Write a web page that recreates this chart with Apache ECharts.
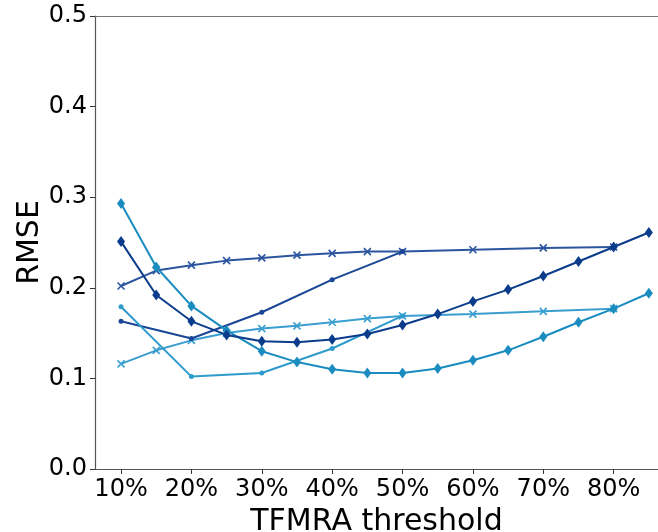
<!DOCTYPE html>
<html>
<head>
<meta charset="utf-8">
<script src="https://cdn.jsdelivr.net/npm/echarts@6/dist/echarts.min.js"></script>
<style>html,body{margin:0;padding:0;background:#fff;}#c{width:658px;height:532px;}</style>
</head>
<body>
<div id="c"></div>
<script>
// ---- data ----
var xTicks = [10, 20, 30, 40, 50, 60, 70, 80];
var yTicks = [0, 0.1, 0.2, 0.3, 0.4, 0.5];
var xFull = [10, 15, 20, 25, 30, 35, 40, 45, 50, 55, 60, 65, 70, 75, 80, 85];
var navyDiamond = [0.251, 0.192, 0.163, 0.148, 0.141, 0.140, 0.143, 0.149, 0.159, 0.171, 0.185, 0.198, 0.213, 0.229, 0.245, 0.261];
var tealDiamond = [0.293, 0.223, 0.180, 0.153, 0.130, 0.118, 0.110, 0.106, 0.106, 0.111, 0.120, 0.131, 0.146, 0.162, 0.177, 0.194];
var xCross = [10, 15, 20, 25, 30, 35, 40, 45, 50, 60, 70, 80];
var navyCross = [0.202, 0.219, 0.225, 0.230, 0.233, 0.236, 0.238, 0.240, 0.240, 0.242, 0.244, 0.245];
var lightCross = [0.116, 0.131, 0.142, 0.150, 0.155, 0.158, 0.162, 0.166, 0.169, 0.171, 0.174, 0.177];
var xDot = [10, 20, 30, 40, 50];
var navyDot = [0.163, 0.144, 0.173, 0.209, 0.240];
var lightDot = [0.179, 0.102, 0.106, 0.133, 0.169];

function pairs(xs, ys) { return xs.map(function (x, i) { return [x, ys[i]]; }); }

var crossPath = 'path://M0,0L10,10M10,0L0,10';
var font = 'DejaVu Sans';

function series(name, xs, ys, color, symbol, size, z) {
  var isCross = symbol === crossPath;
  return {
    name: name, type: 'line', data: pairs(xs, ys), z: z,
    symbol: symbol, symbolSize: size, showSymbol: true,
    lineStyle: { color: color, width: 2 },
    itemStyle: { color: isCross ? 'rgba(0,0,0,0)' : color, borderColor: color, borderWidth: isCross ? 1.6 : 0 },
    emphasis: { disabled: true }, animation: false
  };
}

var chart = echarts.init(document.getElementById('c'), null, { renderer: 'canvas' });
chart.setOption({
  backgroundColor: '#fff',
  animation: false,
  grid: { left: 95, right: 0, top: 16, bottom: 63, containLabel: false, outerBoundsMode: 'none' },
  xAxis: [{
    type: 'value', min: 6.3, max: 86.3, position: 'bottom',
    name: 'TFMRA threshold', nameLocation: 'middle', nameGap: 35,
    nameTextStyle: { fontFamily: font, fontSize: 30, color: '#000' },
    axisLine: { show: true, lineStyle: { color: '#555', width: 1.2 } },
    axisTick: { show: true, length: 5, customValues: xTicks, lineStyle: { color: '#333' } },
    axisLabel: { customValues: xTicks, margin: 9, fontFamily: font, fontSize: 24, color: '#000',
      formatter: function (v) { return Math.round(v) + '%'; } },
    splitLine: { show: false }
  }, {
    type: 'value', min: 6.3, max: 86.3, position: 'top',
    axisLine: { show: true, lineStyle: { color: '#777', width: 1.2 } },
    axisTick: { show: false }, axisLabel: { show: false }, splitLine: { show: false }
  }],
  yAxis: {
    type: 'value', min: 0, max: 0.5, interval: 0.1,
    name: 'RMSE', nameLocation: 'middle', nameGap: 50, nameMoveOverlap: false,
    nameTextStyle: { fontFamily: font, fontSize: 30, color: '#000' },
    axisLine: { show: true, lineStyle: { color: '#555', width: 1.2 } },
    axisTick: { show: true, length: 5, lineStyle: { color: '#333' } },
    axisLabel: { margin: 8, fontFamily: font, fontSize: 24, color: '#000',
      formatter: function (v) { return v.toFixed(1); } },
    splitLine: { show: false }
  },
  series: [
    series('navyCross', xCross, navyCross, '#2c559f', crossPath, 7, 3),
    series('navyDot', xDot, navyDot, '#1a4696', 'circle', 5, 4),
    series('lightCross', xCross, lightCross, '#3a9fd0', crossPath, 7, 3),
    series('lightDot', xDot, lightDot, '#2f9bcc', 'circle', 5, 4),
    series('tealDiamond', xFull, tealDiamond, '#1a8cc0', 'diamond', [8, 11], 5),
    series('navyDiamond', xFull, navyDiamond, '#0b3c8c', 'diamond', [8, 11], 6)
  ]
});
</script>
</body>
</html>
